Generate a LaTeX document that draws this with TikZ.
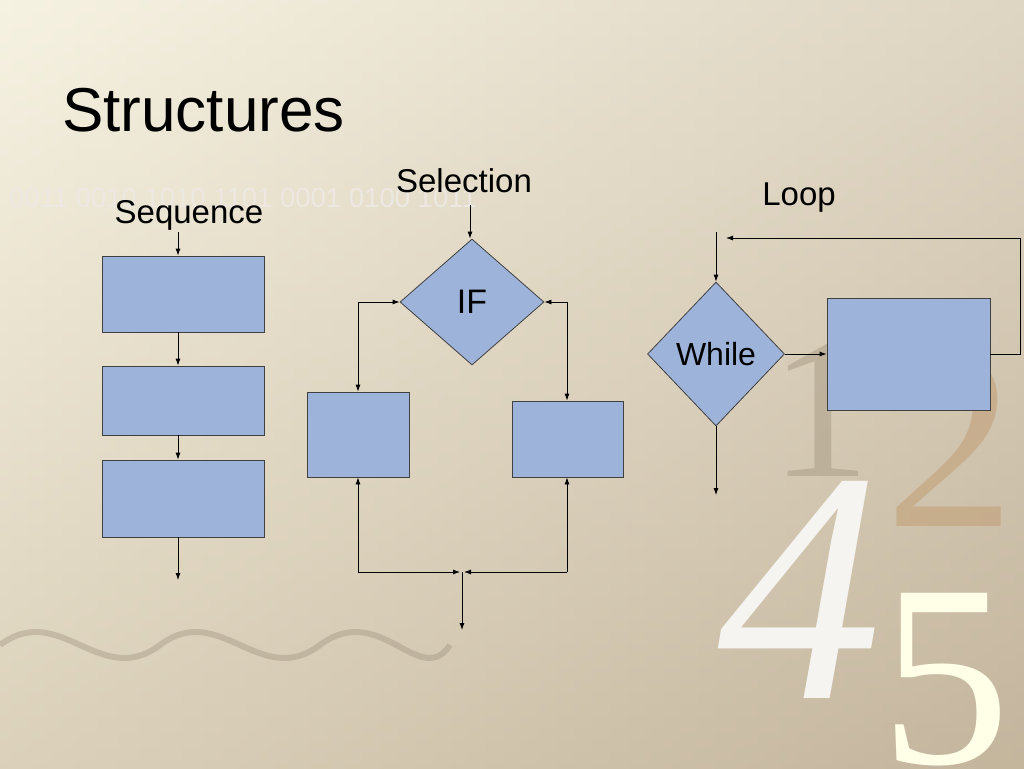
\documentclass[tikz,border=0pt]{standalone}
\usepackage{fontspec}
\setmainfont{Liberation Sans}
\newfontfamily\deco{Liberation Serif}
\usetikzlibrary{arrows.meta,shapes.geometric}
\definecolor{boxfill}{RGB}{157,179,217}
\definecolor{bgA}{RGB}{244,239,218}
\definecolor{bgB}{RGB}{196,181,157}
\tikzset{
  blk/.style={draw=black!75,fill=boxfill,line width=0.8pt},
  arr/.style={-{Latex[length=7pt,width=5pt]},line width=0.8pt},
  lbl/.style={font=\fontsize{33}{36}\selectfont,inner sep=0pt},
}
\begin{document}
\begin{tikzpicture}[x=1pt,y=-1pt]
\useasboundingbox (0,0) rectangle (1024,768);
\shade[left color=bgA,right color=bgB] (0,0) rectangle (1024,768);
\shade[top color=bgA!60!white,bottom color=bgB,opacity=0.5] (0,0) rectangle (1024,768);
% decorations
\node[text=white!70!bgB,font=\fontsize{27.5}{29}\selectfont,inner sep=0pt] (bin) at (243,198) {0011 0010 1010 1101 0001 0100 1011};
\node[text=bgB!85!black,opacity=0.5,font=\deco\fontsize{200}{200}\selectfont] (d1) at (820,410) {1};
\node[text=bgB!60!brown,opacity=0.6,font=\deco\fontsize{260}{260}\selectfont] (d2) at (950,440) {2};
\node[text=white!85!bgB,font=\deco\itshape\fontsize{330}{330}\selectfont] (d4) at (800,590) {4};
\node[text=white!90!yellow,font=\deco\fontsize{260}{260}\selectfont] (d5) at (945,680) {5};
\draw[bgB!80!black,opacity=0.4,line width=6pt] (0,645) .. controls (60,600) and (100,690) .. (160,645) .. controls (220,600) and (260,690) .. (320,645) .. controls (380,600) and (420,690) .. (450,645);
% title
\node[anchor=west,inner sep=0pt,font=\fontsize{62}{70}\selectfont] (title) at (62,110) {Structures};
% sequence
\node[lbl] (seqL) at (189,215) {Sequence};
\coordinate (s0) at (178,232);
\node[blk,minimum width=162pt,minimum height=76pt] (s1) at (183,294) {};
\node[blk,minimum width=162pt,minimum height=69pt] (s2) at (183,400.5) {};
\node[blk,minimum width=162pt,minimum height=77pt] (s3) at (183,498.5) {};
\coordinate (s4) at (178,580);
\draw[arr] (s0) -- (s0|-s1.north);
\draw[arr] (s0|-s1.south) -- (s0|-s2.north);
\draw[arr] (s0|-s2.south) -- (s0|-s3.north);
\draw[arr] (s0|-s3.south) -- (s4);
% selection
\node[lbl] (selL) at (464,181) {Selection};
\coordinate (c0) at (470,205);
\node[blk,diamond,minimum width=144pt,minimum height=126pt,inner sep=0pt,font=\fontsize{34}{36}\selectfont] (if) at (472,302) {IF};
\node[blk,minimum width=102pt,minimum height=85pt] (bl) at (358,434.5) {};
\node[blk,minimum width=111pt,minimum height=76pt] (br) at (567.5,439) {};
\coordinate (jl) at (358,572);
\coordinate (jr) at (567,572);
\coordinate (jm) at (462,572);
\coordinate (jo) at (462,630);
\draw[arr] (c0) -- (c0|-if.north);
\draw[arr] (jl|-if.west) -- (if.west);
\draw[arr] (jl|-if.west) -- (jl|-bl.north);
\draw[arr] (jr|-if.east) -- (if.east);
\draw[arr] (jr|-if.east) -- (jr|-br.north);
\draw[arr] (jl) -- (jl|-bl.south);
\draw[arr] (jr) -- (jr|-br.south);
\draw[arr] (jl) -- ([xshift=-2pt]jm);
\draw[arr] (jr) -- ([xshift=2pt]jm);
\draw[arr] (jm) -- (jo);
% loop
\node[lbl] (loopL) at (799,198) {Loop};
\node[blk,diamond,minimum width=137pt,minimum height=144pt,inner sep=0pt,font=\fontsize{32}{34}\selectfont] (wh) at (716,354) {While};
\node[blk,minimum width=163pt,minimum height=112pt] (lb) at (908.5,354) {};
\coordinate (w0) at (716,232);
\coordinate (w1) at (726,238);
\coordinate (rt) at (1020,238);
\coordinate (w9) at (716,495);
\draw[arr] (w0) -- (wh.north);
\draw[arr] (wh.east) -- (lb.west);
\draw[arr] (lb.east) -- (rt|-lb.east) -- (rt) -- (w1);
\draw[arr] (wh.south) -- (w9);
\end{tikzpicture}
\end{document}
